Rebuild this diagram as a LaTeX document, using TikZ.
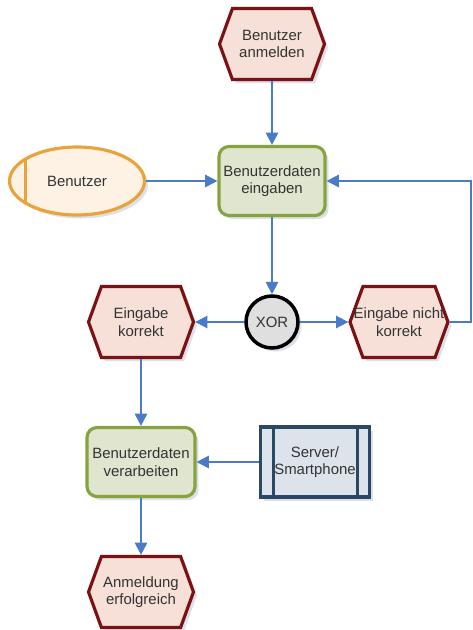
\documentclass[tikz,border=0pt]{standalone}
\usepackage{fontspec}
\setmainfont{Liberation Sans}
\usetikzlibrary{arrows.meta}
\usetikzlibrary{shapes.symbols,shapes.geometric}
\usetikzlibrary{shadows}
\definecolor{rotrand}{HTML}{7B1113}
\definecolor{rotfill}{HTML}{F6E0D8}
\definecolor{gruenrand}{HTML}{86A33E}
\definecolor{gruenfill}{HTML}{E0E5CF}
\definecolor{orangerand}{HTML}{E8A33A}
\definecolor{orangefill}{HTML}{FDF2E3}
\definecolor{blaurand}{HTML}{2A4865}
\definecolor{blaufill}{HTML}{DDE3EA}
\definecolor{pfeilblau}{HTML}{4A7BC8}
\definecolor{schatten}{HTML}{C5CBD8}
\definecolor{schrift}{HTML}{333333}
\tikzset{
  basis/.style={align=center, text=schrift, font=\fontsize{8.5}{10}\selectfont,
    line width=1.8pt, drop shadow={shadow xshift=2pt, shadow yshift=-2pt, fill=schatten, opacity=.6}},
  ereignis/.style={basis, shape=signal, signal to=east and west, signal pointer angle=140,
    draw=rotrand, fill=rotfill, minimum width=2.1cm, minimum height=1.42cm, inner sep=1pt},
  funktion/.style={basis, rectangle, rounded corners=0.2cm, draw=gruenrand, fill=gruenfill,
    minimum width=2.12cm, minimum height=1.38cm, inner sep=1pt},
  pfeil/.style={draw=pfeilblau, line width=1.1pt, -{Triangle[length=7pt,width=7pt]}}
}
\begin{document}
\begin{tikzpicture}[x=0.02cm,y=-0.02cm]
\useasboundingbox (0,0) rectangle (473,630);
\node[ereignis] (anm) at (272,44) {Benutzer\\anmelden};
\node[funktion] (eing) at (272,181) {Benutzerdaten\\eingaben};
\node[basis, ellipse, draw=orangerand, fill=orangefill, minimum width=2.7cm, minimum height=1.36cm,
  path picture={\draw[orangerand, line width=1.8pt] ([xshift=0.32cm]path picture bounding box.north west) -- ([xshift=0.32cm]path picture bounding box.south west);}]
  (ben) at (77,181) {Benutzer};
\node[basis, circle, draw=black, fill=gray!25, minimum size=1.04cm, inner sep=0pt, line width=2pt] (xor) at (272,322) {XOR};
\node[ereignis, minimum width=1.96cm, inner xsep=-0.2cm] (nicht) at (399,322) {Eingabe nicht\\korrekt};
\node[ereignis] (korr) at (141,322) {Eingabe\\korrekt};
\node[funktion, minimum width=2.16cm] (verarb) at (141,462) {Benutzerdaten\\verarbeiten};
\node[basis, rectangle, draw=blaurand, fill=blaufill, minimum width=2.18cm, minimum height=1.4cm,
  path picture={\draw[blaurand, line width=1.8pt] ([xshift=0.26cm]path picture bounding box.north west) -- ([xshift=0.26cm]path picture bounding box.south west)
    ([xshift=-0.24cm]path picture bounding box.north east) -- ([xshift=-0.24cm]path picture bounding box.south east);}]
  (srv) at (315,462) {Server/\\Smartphone};
\node[ereignis] (erf) at (141,592) {Anmeldung\\erfolgreich};
\coordinate (rueck) at (471,322);
\foreach \a/\b in {anm.south/eing.north, ben.east/eing.west, eing.south/xor.north, xor.east/nicht.west,
  xor.west/korr.east, korr.south/verarb.north, srv.west/verarb.east, verarb.south/erf.north}
  {\draw[pfeil] (\a) -- (\b);}
\draw[pfeil] (nicht.east) -- (rueck) |- (eing.east);
\end{tikzpicture}
\end{document}
